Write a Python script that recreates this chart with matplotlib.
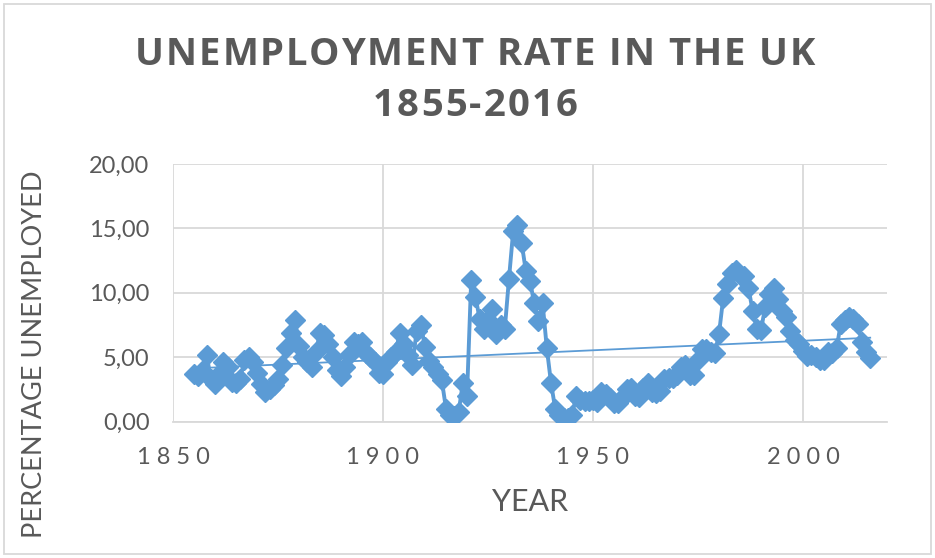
import numpy as np
import matplotlib
matplotlib.use("Agg")
import matplotlib.pyplot as plt
from matplotlib.patches import Rectangle
from matplotlib.ticker import FuncFormatter
from matplotlib.font_manager import FontProperties

# annual UK unemployment rate (%)
years = list(range(1855, 2017))
rate = [
    3.7, 3.5, 3.9, 5.2, 3.3, 2.9, 3.7, 4.6, 4.2, 3.1,   # 1855-1864
    3.0, 3.3, 4.8, 5.0, 4.6, 3.8, 2.9, 2.3, 2.5, 2.8,   # 1865-1874
    3.3, 4.4, 5.7, 6.9, 7.9, 5.9, 5.0, 4.6, 4.2, 5.4,   # 1875-1884
    6.9, 6.7, 6.0, 5.0, 4.0, 3.5, 4.2, 5.2, 6.2, 6.0,   # 1885-1894
    6.2, 5.3, 5.0, 4.6, 3.8, 3.7, 4.6, 5.0, 5.4, 6.9,   # 1895-1904
    6.0, 5.2, 4.4, 7.0, 7.5, 5.8, 4.7, 4.2, 3.7, 3.2,   # 1905-1914
    1.0, 0.5, 0.4, 0.7, 3.0, 2.0, 11.0, 9.7, 8.0, 7.2,  # 1915-1924
    7.9, 8.7, 6.8, 7.5, 7.2, 11.1, 14.8, 15.3, 13.9, 11.7,  # 1925-1934
    10.9, 9.2, 7.8, 9.2, 5.7, 3.0, 1.0, 0.5, 0.3, 0.3,  # 1935-1944
    0.5, 2.0, 1.7, 1.6, 1.6, 1.7, 1.5, 2.3, 2.1, 1.8,   # 1945-1954
    1.4, 1.4, 1.8, 2.5, 2.6, 2.0, 1.9, 2.6, 3.0, 2.3,   # 1955-1964
    2.2, 2.4, 3.3, 3.4, 3.4, 3.6, 4.2, 4.4, 3.6, 3.6,   # 1965-1974
    4.8, 5.6, 5.6, 5.4, 5.3, 6.8, 9.6, 10.7, 11.5, 11.8,  # 1975-1984
    11.4, 11.3, 10.4, 8.6, 7.2, 7.1, 8.9, 9.9, 10.4, 9.5,  # 1985-1994
    8.6, 8.1, 7.0, 6.3, 6.0, 5.5, 5.1, 5.2, 5.0, 4.8,   # 1995-2004
    4.8, 5.4, 5.3, 5.7, 7.6, 7.9, 8.1, 8.0, 7.6, 6.2,   # 2005-2014
    5.4, 4.9,                                           # 2015-2016
]

x_ticks = [1850, 1900, 1950, 2000]
y_ticks = [0, 5, 10, 15, 20]
title_lines = ["UNEMPLOYMENT RATE IN THE UK", "1855-2016"]

BLUE = "#5B9BD5"
GREY = "#595959"
GRID = "#D9D9D9"
W, H = 935, 558

plt.rcParams["font.family"] = ["Lato", "DejaVu Sans"]

fig = plt.figure(figsize=(W / 100, H / 100), dpi=100)
ax = fig.add_axes([173 / W, 1 - 421.5 / H, (887 - 173) / W, (421.5 - 164) / H])

ax.plot(years, rate, color=BLUE, lw=2.8, marker="D", ms=10.5,
        markerfacecolor=BLUE, markeredgecolor=BLUE, zorder=3)

# linear trend line
k, b = np.polyfit(years, rate, 1)
yr = np.array([years[0], years[-1]])
ax.plot(yr, k * yr + b, color=BLUE, lw=1.3, zorder=4)

ax.set_xlim(1850, 2020)
ax.set_ylim(0, 20)
ax.set_xticks(x_ticks)
ax.set_yticks(y_ticks)
ax.yaxis.set_major_formatter(FuncFormatter(lambda v, p: f"{v:.2f}".replace(".", ",")))
ax.xaxis.set_major_formatter(FuncFormatter(lambda v, p: " ".join(str(int(v)))))
ax.grid(True, color=GRID, lw=1.3)
ax.set_axisbelow(True)
for s in ("top", "right", "left"):
    ax.spines[s].set_visible(False)
ax.spines["bottom"].set_color(GRID)
ax.spines["bottom"].set_linewidth(1.3)
ax.tick_params(length=0, labelsize=17, colors=GREY)
ax.tick_params(axis="y", pad=17)
ax.tick_params(axis="x", pad=18)

ax.set_xlabel("YEAR", fontsize=22, color=GREY)
ax.xaxis.set_label_coords(0.5, (421.5 - 488) / 257.5)
ax.set_ylabel("PERCENTAGE UNEMPLOYED", fontsize=19.5, color=GREY)
ax.yaxis.set_label_coords((47 - 173) / 714, (421.5 - 354) / 257.5)


def tracked(text, cx, cy, width, prop):
    # Excel-style letter spacing: spread glyphs so the line spans `width` px
    r = fig.canvas.get_renderer()
    wid = lambda s: r.get_text_width_height_descent(s, prop, ismath=False)[0]
    full = wid(text)
    track = (width - full) / (len(text) - 1)
    x0 = cx - width / 2
    for i, ch in enumerate(text):
        if ch == " ":
            continue
        left = wid(text[:i + 1]) - wid(ch) + i * track
        fig.text((x0 + left) / W, 1 - cy / H, ch, ha="left", va="center",
                 fontproperties=prop, color=GREY)


tprop = FontProperties(family=["Open Sans", "DejaVu Sans"], weight="bold", size=27.5)
tracked(title_lines[0], 475, 55, 680, tprop)
tracked(title_lines[1], 475, 106, 205, tprop)

fig.patches.append(Rectangle((4 / W, 4 / H), 927 / W, 550 / H, transform=fig.transFigure,
                             fill=False, edgecolor=GRID, lw=1.3))

fig.savefig("out.png", dpi=100)
